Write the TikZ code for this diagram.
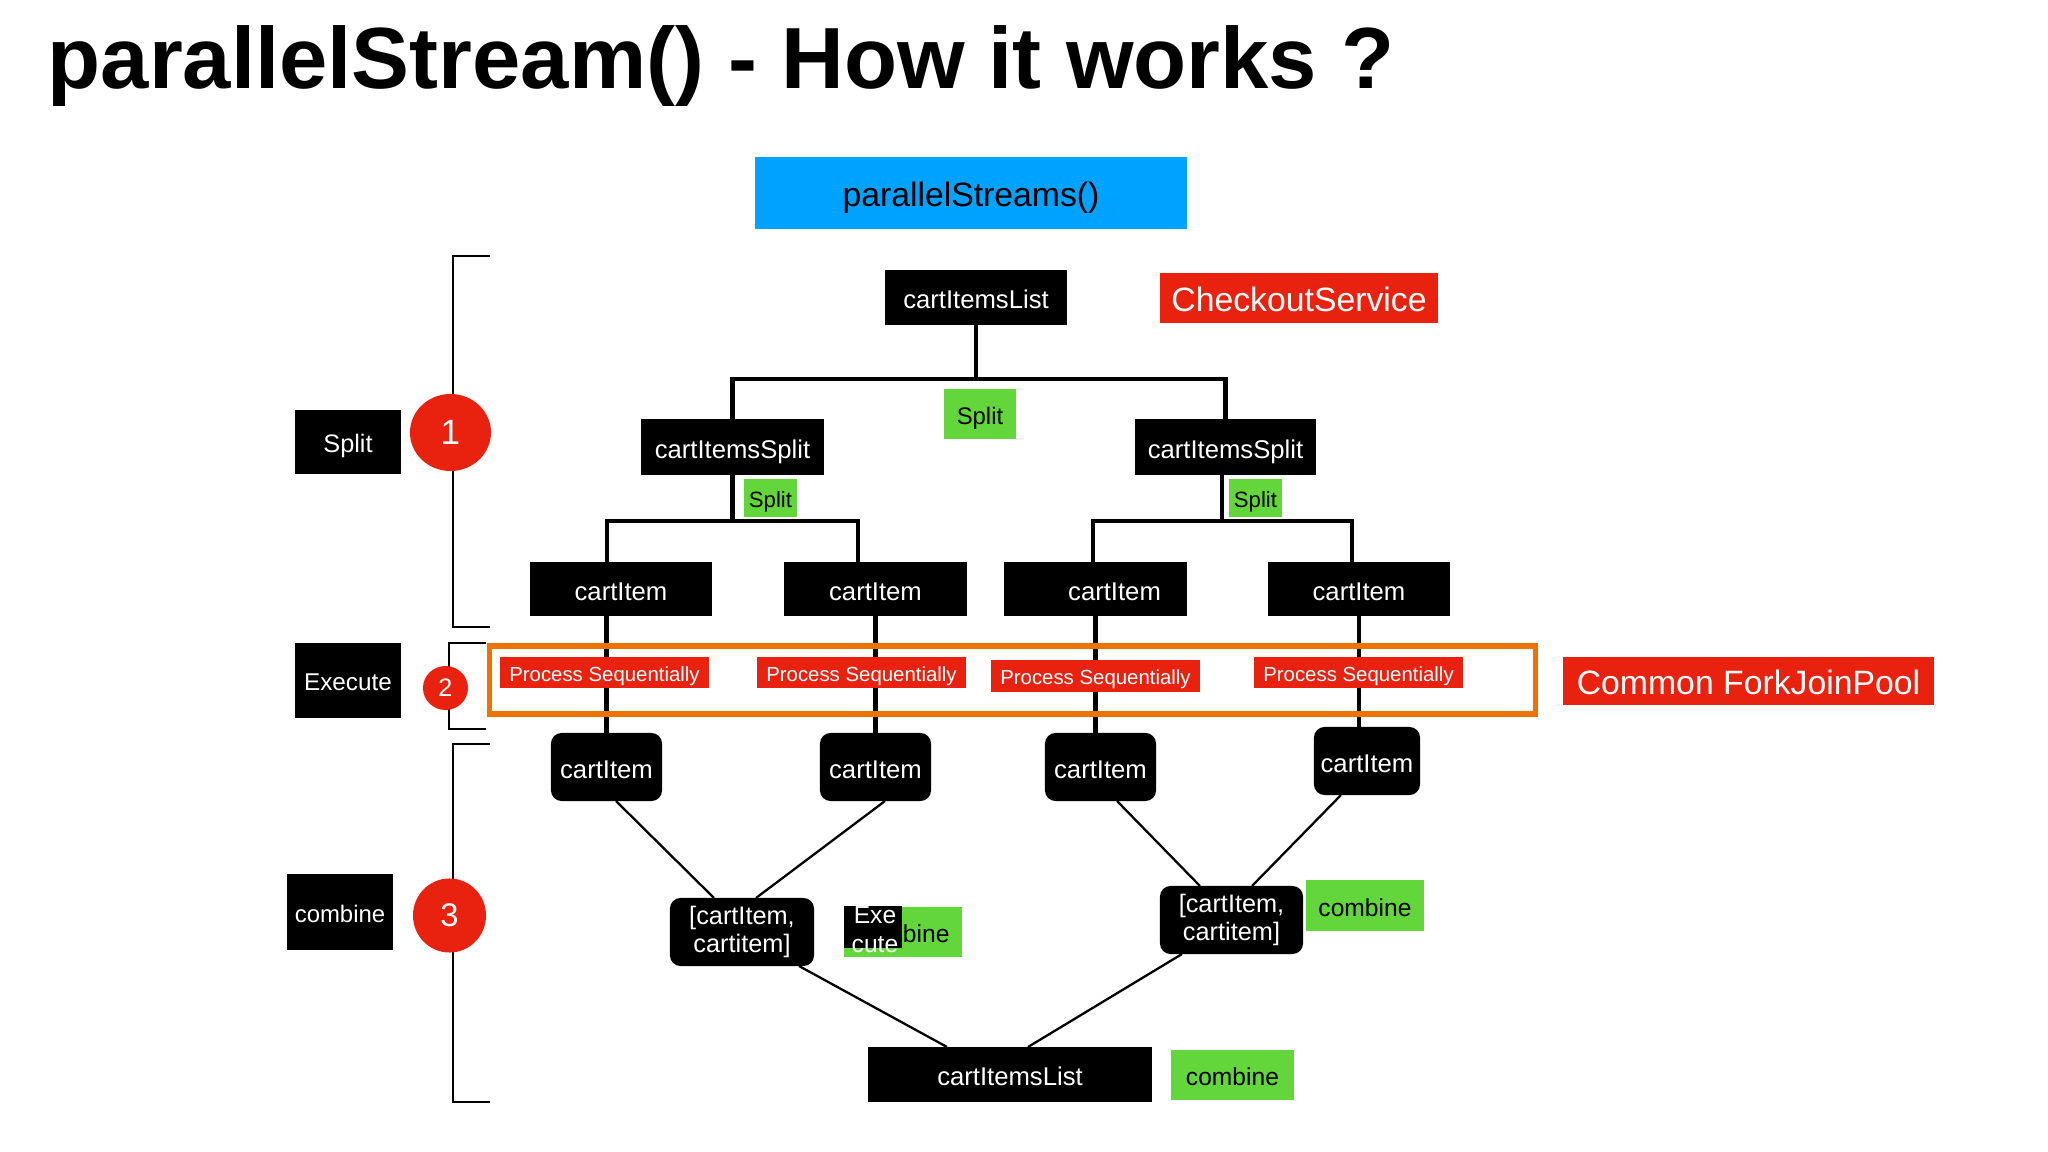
\documentclass[tikz,border=0pt]{standalone}
\usepackage{fontspec}
\setmainfont{Liberation Sans}
\usetikzlibrary{shapes.geometric,calc}
\definecolor{rd}{RGB}{233,34,16}
\definecolor{gr}{RGB}{98,214,58}
\definecolor{bl}{RGB}{0,162,255}
\definecolor{org}{RGB}{238,114,3}
\newcommand{\myfont}[2]{\fontsize{#1}{#2}\selectfont}
\tikzset{
  box/.style={inner sep=0pt, outer sep=0pt, align=center},
  ctext/.style={text depth=0pt, text height=#1},
  blkbase/.style={box, fill=black, text=white, font=\myfont{7.3}{8.5}},
  blk/.style={blkbase, ctext=6.3pt},
  rblk/.style={blk, rounded corners=3pt},
  pairbox/.style={blkbase, rounded corners=3pt, font=\myfont{7.2}{7.8}},
  grn/.style={box, fill=gr, text=black},
  redb/.style={box, fill=rd, text=white},
  tree/.style={line width=1.15pt},
  diag/.style={line width=0.65pt},
  brk/.style={line width=0.7pt},
  num/.style={ellipse, fill=rd, text=white, inner sep=0pt},
  psq/.style={redb, font=\myfont{5.8}{7}, ctext=5.1pt, minimum width=2.09cm, minimum height=0.31cm},
  upitem/.style={blk, minimum width=1.82cm, minimum height=0.54cm},
  lowitem/.style={rblk, minimum width=1.11cm, minimum height=0.68cm},
  cmb/.style={grn, font=\myfont{7}{8}, ctext=6.0pt},
}
\begin{document}
\begin{tikzpicture}[x=0.01cm, y=-0.01cm]
\fill[white] (0,0) rectangle (2048,1152);
\useasboundingbox (0,0) rectangle (2048,1152);

% title
\node[anchor=base west, font=\bfseries\myfont{24.7}{28}, inner sep=0pt] (title) at (47,89) {parallelStream() - How it works ?};

% header boxes
\node[box, fill=bl, font=\myfont{9.6}{11}, ctext=7.9pt, minimum width=4.32cm, minimum height=0.72cm] (ps) at (971,193) {parallelStreams()};
\node[redb, font=\myfont{9.6}{11}, ctext=7.9pt, minimum width=2.78cm, minimum height=0.50cm] (cs) at (1299,298) {CheckoutService};

% split tree
\node[blk, minimum width=1.82cm, minimum height=0.55cm] (L0) at (976,297.5) {cartItemsList};
\node[grn, font=\myfont{6.8}{8}, ctext=5.9pt, minimum width=0.72cm, minimum height=0.50cm] (g0) at (980,414) {Split};
\node[blk, minimum width=1.83cm, minimum height=0.56cm] (S1) at (732.5,447) {cartItemsSplit};
\node[blk, minimum width=1.81cm, minimum height=0.56cm] (S2) at (1225.5,447) {cartItemsSplit};
\node[grn, font=\myfont{6.3}{7.5}, ctext=5.5pt, minimum width=0.53cm, minimum height=0.38cm] (g1) at (770.5,498) {Split};
\node[grn, font=\myfont{6.3}{7.5}, ctext=5.5pt, minimum width=0.53cm, minimum height=0.38cm] (g2) at (1255.5,498) {Split};

\node[upitem] (C1) at (621,589) {cartItem};
\node[upitem] (C2) at (875.5,589) {cartItem};
\node[upitem] (C3) at (1095.5,589) {\hspace*{0.38cm}cartItem};
\node[upitem] (C4) at (1359,589) {cartItem};

\node[lowitem] (D1) at (606.5,767) {cartItem};
\node[lowitem] (D2) at (875.5,767) {cartItem};
\node[lowitem] (D3) at (1100.5,767) {cartItem};
\node[lowitem, minimum width=1.06cm] (D4) at (1367,761) {cartItem};

\coordinate (j0) at (976,379);
\draw[tree] (L0.south) -- (j0);
\draw[tree] (S1.north) |- (j0) -| (S2.north);

\coordinate (j1) at (732.5,521);
\coordinate (k1) at (607,521);
\coordinate (k2) at (858,521);
\draw[tree] (S1.south) -- (j1);
\draw[tree] (k1 |- C1.north) -- (k1) -- (k2) -- (k2 |- C2.north);

\coordinate (j2) at (1222,521);
\coordinate (k3) at (1093,521);
\coordinate (k4) at (1352,521);
\draw[tree] (S2.south -| j2) -- (j2);
\draw[tree] (k3 |- C3.north) -- (k3) -- (k4) -- (k4 |- C4.north);

\draw[tree] (C1.south -| D1.north) -- (D1.north);
\draw[tree] (C2.south -| D2.north) -- (D2.north);
\draw[tree] (C3.south) -- (C3.south |- D3.north);
\draw[tree] (C4.south) -- (C4.south |- D4.north);

% execute pool
\node[draw=org, line width=1.55pt, minimum width=10.45cm, minimum height=0.68cm, inner sep=0pt] (pool) at (1012.5,680) {};
\node[psq] (P1) at (604.5,672.5) {Process Sequentially};
\node[psq] (P2) at (861.5,672.5) {Process Sequentially};
\node[psq, minimum height=0.32cm] (P3) at (1095.5,676) {Process Sequentially};
\node[psq] (P4) at (1358.5,672.5) {Process Sequentially};
\node[redb, font=\myfont{9.6}{11}, ctext=7.9pt, minimum width=3.71cm, minimum height=0.48cm] (fj) at (1748.5,681) {Common ForkJoinPool};

% combine
\node[pairbox, minimum width=1.44cm, minimum height=0.68cm] (E1) at (742,932) {[cartItem,\\cartitem]};
\node[pairbox, minimum width=1.43cm, minimum height=0.68cm] (E2) at (1231.5,920) {[cartItem,\\cartitem]};
\node[blk, minimum width=2.84cm, minimum height=0.55cm] (L1) at (1010,1074.5) {cartItemsList};

\node[cmb, minimum width=1.18cm, minimum height=0.51cm] (gc1) at (1365,905.5) {combine};
\node[cmb, minimum width=1.23cm, minimum height=0.50cm] (gc2) at (1232.5,1075) {combine};

\node[cmb, minimum width=1.18cm, minimum height=0.50cm] (gx) at (903,932) {combine};
\node[box, fill=black, minimum width=0.58cm, minimum height=0.42cm] (bx) at (873,927) {};
\node[anchor=base, inner sep=0pt, text=white, font=\myfont{7}{8}] (ex1) at (875,923) {Exe};
\node[anchor=base, inner sep=0pt, text=white, font=\myfont{7}{8}] (ex2) at (875,952) {cute};

\draw[diag] ([xshift=0.095cm]D1.south) -- ([xshift=-0.28cm]E1.north);
\draw[diag] ([xshift=0.095cm]D2.south) -- ([xshift=0.14cm]E1.north);
\draw[diag] ([xshift=0.165cm]D3.south) -- ([xshift=-0.315cm]E2.north);
\draw[diag] ([xshift=-0.26cm]D4.south) -- ([xshift=0.205cm]E2.north);
\draw[diag] ([xshift=0.57cm]E1.south) -- ([xshift=-0.63cm]L1.north);
\draw[diag] ([xshift=-0.495cm]E2.south) -- ([xshift=0.18cm]L1.north);

% left side brackets and labels
\draw[brk] (490,256) -- (453,256) -- (453,627) -- (490,627);
\draw[brk] (486,643) -- (449,643) -- (449,729) -- (486,729);
\draw[brk] (490,744) -- (453,744) -- (453,1102) -- (490,1102);

\node[num, minimum width=0.81cm, minimum height=0.77cm, font=\myfont{10}{12}] (n1) at (450.5,432.5) {1};
\node[num, minimum width=0.45cm, minimum height=0.44cm, font=\myfont{7.2}{8}] (n2) at (445.5,688) {2};
\node[num, minimum width=0.73cm, minimum height=0.74cm, font=\myfont{9.3}{11}] (n3) at (449.5,915.5) {3};

\node[blk, font=\myfont{7.2}{8}, ctext=6.2pt, minimum width=1.06cm, minimum height=0.64cm] (ls) at (348,442) {Split};
\node[blk, font=\myfont{6.9}{8}, ctext=5.9pt, minimum width=1.06cm, minimum height=0.75cm] (le) at (348,680.5) {Execute};
\node[blk, font=\myfont{6.8}{8}, ctext=5.9pt, minimum width=1.06cm, minimum height=0.76cm] (lc) at (340,912) {combine};
\end{tikzpicture}
\end{document}
